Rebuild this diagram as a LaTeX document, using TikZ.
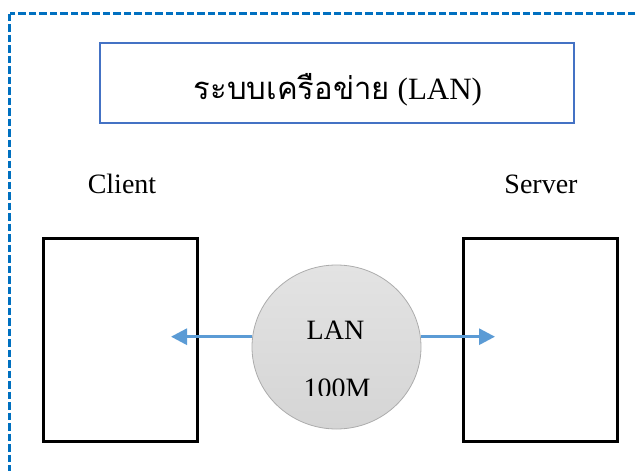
\documentclass[tikz,border=0pt]{standalone}
\usepackage{fontspec}
\setmainfont{Liberation Serif}
\newfontfamily\thaifont[Script=Thai]{Loma}
\usetikzlibrary{arrows.meta,shapes.geometric}
\definecolor{framblue}{HTML}{0070C0}
\definecolor{titleblue}{HTML}{4472C4}
\definecolor{linkblue}{HTML}{5B9BD5}
\begin{document}
\begin{tikzpicture}[x=1pt,y=-1pt,
	pcbox/.style={draw=black, line width=3pt, minimum width=154pt, minimum height=203pt, inner sep=0pt},
	txt/.style={anchor=base, font=\fontsize{28}{30}\selectfont, inner sep=0pt},
	link/.style={draw=linkblue, line width=3pt, -{Triangle[length=16pt,width=16pt]}}]
	\clip (0,0) rectangle (638,471);
	\draw [framblue, line width=3pt, dash pattern=on 7.5pt off 3pt] (9.5,13.5) rectangle (660,500);
	\node [draw=titleblue, line width=2.2pt, minimum width=474pt, minimum height=80pt] (title) at (337,83) {};
	\node [txt, font=\fontsize{31}{33}\selectfont] (titletext) at (338,99) {{\thaifont ระบบเครือข่าย} (LAN)};
	\node [txt] (clientlabel) at (122,193) {Client};
	\node [txt] (serverlabel) at (541,193) {Server};
	\node [pcbox] (client) at (120.5,340) {};
	\node [pcbox] (server) at (540.5,340) {};
	\node [ellipse, draw=gray!65, line width=0.8pt, top color=gray!22, bottom color=gray!33, minimum width=169pt, minimum height=164pt, inner sep=0pt] (lan) at (336.5,347) {};
	\coordinate (clientin) at (171,336.7);
	\coordinate (serverin) at (495,336.7);
	\draw [link] (lan.west |- clientin) -- (clientin);
	\draw [link] (lan.east |- serverin) -- (serverin);
	\node [txt] (lanname) at (335.5,339) {LAN};
	\begin{scope}
	\clip (250,360) rectangle (420,395);
	\node [txt] (lanspeed) at (337,397) {100M};
	\end{scope}
\end{tikzpicture}
\end{document}
